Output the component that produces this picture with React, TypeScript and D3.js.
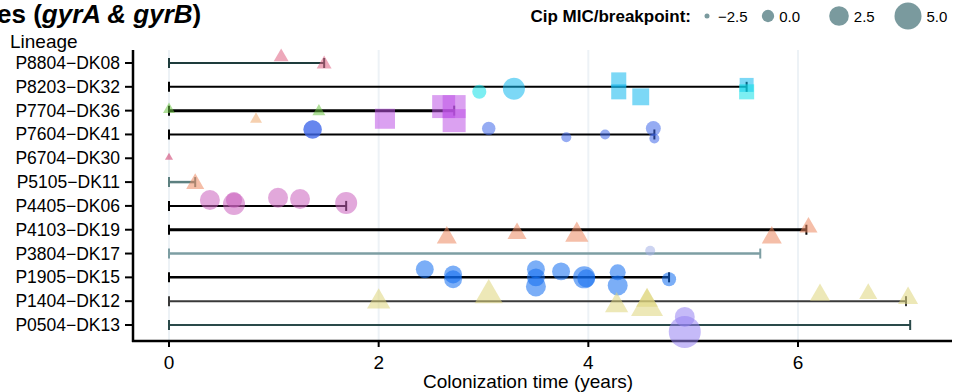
import React from "react";
import * as d3 from "d3";

// lineages, top to bottom
const lineages = [
  "P8804−DK08", "P8203−DK32", "P7704−DK36", "P7604−DK41", "P6704−DK30", "P5105−DK11",
  "P4405−DK06", "P4103−DK19", "P3804−DK17", "P1905−DK15", "P1404−DK12", "P0504−DK13",
];
// colonization span (years) per lineage
const endTimes = [1.48, 5.51, 2.72, 4.63, 0, 0.25, 1.69, 6.08, 5.64, 4.77, 7.03, 7.07];
const xTicks = [0, 2, 4, 6];
const legendMic = [-2.5, 0, 2.5, 5];

type Pt = { lin: number; t: number; jit: number; mic: number; shape: "tri" | "sq" | "ci"; grp: string };

// isolates: lineage index, time, vertical jitter (rows), MIC/breakpoint, shape, mutation group
const isolates: Pt[] = [
  { lin: 0, t: 1.07, jit: -0.34, mic: 0.4, shape: "tri", grp: "a" },
  { lin: 0, t: 1.48, jit: -0.04, mic: 0.4, shape: "tri", grp: "a" },
  { lin: 1, t: 2.96, jit: 0.21, mic: 0.6, shape: "ci", grp: "b2" },
  { lin: 1, t: 3.29, jit: 0.08, mic: 3.3, shape: "ci", grp: "b" },
  { lin: 1, t: 4.29, jit: -0.29, mic: 1.5, shape: "sq", grp: "b" },
  { lin: 1, t: 4.29, jit: 0.21, mic: 1.5, shape: "sq", grp: "b" },
  { lin: 1, t: 4.5, jit: 0.42, mic: 2.2, shape: "sq", grp: "b" },
  { lin: 1, t: 5.51, jit: -0.08, mic: 1.1, shape: "sq", grp: "b" },
  { lin: 1, t: 5.51, jit: 0.21, mic: 1.5, shape: "sq", grp: "b2" },
  { lin: 2, t: 0, jit: -0.12, mic: -0.5, shape: "tri", grp: "c" },
  { lin: 2, t: 0.83, jit: 0.29, mic: -0.5, shape: "tri", grp: "d" },
  { lin: 2, t: 1.43, jit: -0.04, mic: -0.2, shape: "tri", grp: "c" },
  { lin: 2, t: 2.06, jit: 0.34, mic: 3.4, shape: "sq", grp: "e" },
  { lin: 2, t: 2.62, jit: -0.17, mic: 4.5, shape: "sq", grp: "e" },
  { lin: 2, t: 2.72, jit: -0.17, mic: 4.5, shape: "sq", grp: "e" },
  { lin: 2, t: 2.72, jit: 0.42, mic: 4.5, shape: "sq", grp: "e" },
  { lin: 3, t: 1.37, jit: -0.21, mic: 2.1, shape: "ci", grp: "f" },
  { lin: 3, t: 1.37, jit: -0.21, mic: 2.0, shape: "ci", grp: "f" },
  { lin: 3, t: 3.05, jit: -0.25, mic: 0.4, shape: "ci", grp: "f" },
  { lin: 3, t: 3.79, jit: 0.12, mic: -0.8, shape: "ci", grp: "f" },
  { lin: 3, t: 4.16, jit: 0.0, mic: -0.8, shape: "ci", grp: "f" },
  { lin: 3, t: 4.62, jit: -0.25, mic: 0.9, shape: "ci", grp: "f" },
  { lin: 3, t: 4.63, jit: 0.17, mic: -0.8, shape: "ci", grp: "f" },
  { lin: 4, t: 0, jit: -0.08, mic: -1.7, shape: "tri", grp: "a2" },
  { lin: 5, t: 0.25, jit: -0.04, mic: 1.4, shape: "tri", grp: "d2" },
  { lin: 6, t: 0.39, jit: -0.25, mic: 2.6, shape: "ci", grp: "g" },
  { lin: 6, t: 0.62, jit: -0.25, mic: 1.3, shape: "ci", grp: "g" },
  { lin: 6, t: 0.62, jit: -0.08, mic: 3.3, shape: "ci", grp: "g" },
  { lin: 6, t: 1.04, jit: -0.34, mic: 2.6, shape: "ci", grp: "g" },
  { lin: 6, t: 1.25, jit: -0.29, mic: 2.6, shape: "ci", grp: "g" },
  { lin: 6, t: 1.69, jit: -0.12, mic: 3.3, shape: "ci", grp: "g" },
  { lin: 7, t: 2.65, jit: 0.21, mic: 2.0, shape: "tri", grp: "d2" },
  { lin: 7, t: 3.32, jit: 0.04, mic: 1.7, shape: "tri", grp: "d2" },
  { lin: 7, t: 3.89, jit: 0.08, mic: 3.0, shape: "tri", grp: "d2" },
  { lin: 7, t: 5.75, jit: 0.21, mic: 2.0, shape: "tri", grp: "d2" },
  { lin: 7, t: 6.1, jit: -0.21, mic: 1.4, shape: "tri", grp: "d2" },
  { lin: 8, t: 4.59, jit: -0.12, mic: -0.8, shape: "ci", grp: "h" },
  { lin: 9, t: 2.44, jit: -0.34, mic: 1.9, shape: "ci", grp: "i" },
  { lin: 9, t: 2.71, jit: -0.12, mic: 1.9, shape: "ci", grp: "i" },
  { lin: 9, t: 2.71, jit: 0.08, mic: 1.9, shape: "ci", grp: "i" },
  { lin: 9, t: 3.5, jit: -0.34, mic: 1.9, shape: "ci", grp: "i" },
  { lin: 9, t: 3.5, jit: 0.0, mic: 1.9, shape: "ci", grp: "i" },
  { lin: 9, t: 3.5, jit: 0.38, mic: 2.6, shape: "ci", grp: "i" },
  { lin: 9, t: 3.74, jit: -0.25, mic: 1.9, shape: "ci", grp: "i" },
  { lin: 9, t: 3.96, jit: 0.0, mic: 3.3, shape: "ci", grp: "i" },
  { lin: 9, t: 3.98, jit: 0.04, mic: 1.9, shape: "ci", grp: "i" },
  { lin: 9, t: 4.28, jit: -0.21, mic: 1.25, shape: "ci", grp: "i" },
  { lin: 9, t: 4.28, jit: 0.34, mic: 2.6, shape: "ci", grp: "i" },
  { lin: 9, t: 4.77, jit: 0.08, mic: 0.6, shape: "ci", grp: "i" },
  { lin: 10, t: 2.0, jit: -0.12, mic: 3.0, shape: "tri", grp: "j" },
  { lin: 10, t: 3.05, jit: -0.42, mic: 4.5, shape: "tri", grp: "j" },
  { lin: 10, t: 4.27, jit: 0.04, mic: 3.0, shape: "tri", grp: "j" },
  { lin: 10, t: 4.56, jit: 0.04, mic: 5.7, shape: "tri", grp: "j" },
  { lin: 10, t: 4.56, jit: -0.17, mic: 2.6, shape: "tri", grp: "j" },
  { lin: 10, t: 6.21, jit: -0.38, mic: 2.0, shape: "tri", grp: "j" },
  { lin: 10, t: 6.67, jit: -0.42, mic: 1.4, shape: "tri", grp: "j" },
  { lin: 10, t: 7.05, jit: -0.25, mic: 2.0, shape: "tri", grp: "j" },
  { lin: 11, t: 4.92, jit: -0.34, mic: 2.6, shape: "ci", grp: "k" },
  { lin: 11, t: 4.92, jit: 0.29, mic: 6.7, shape: "ci", grp: "k" },
];

const groupColor: Record<string, string> = {
  a: "#de6182", a2: "#cc3366", b: "#10b8ee", b2: "#10e0e8", c: "#6ec546", d: "#eeaa6e",
  d2: "#ed8961", e: "#be53e6", f: "#3f67e9", g: "#cb61be", h: "#a4b1e6", i: "#0f6cf0",
  j: "#dfd57b", k: "#9682f3",
};
const lineStyle = [
  ["#1e3c3c", 2], ["#000", 2], ["#000", 3], ["#000", 2], ["#000", 2], ["#5c8080", 2.5],
  ["#000", 2], ["#000", 3], ["#7d9ea3", 2.5], ["#000", 2.5], ["#3a3a3a", 2], ["#2a4a4a", 2],
] as [string, number][];

const W = 955, H = 392;
const FONT = "'Liberation Sans', Arial, sans-serif";

export default function App() {
  const x = d3.scaleLinear().domain([0, 6]).range([169, 798]);
  const y = d3.scalePoint<string>().domain(lineages).range([63, 325]);
  const step = y.step();
  const r = d3.scaleLinear().domain([-2.5, 5]).range([2.5, 13.5]);

  const shapePath = (s: string, rad: number) => {
    if (s === "tri") {
      const a = rad * 2.2, h = a * 0.866;
      return `M0,${-h / 2}L${a / 2},${h / 2}L${-a / 2},${h / 2}Z`;
    }
    if (s === "sq") {
      const a = rad * 1.8;
      return `M${-a / 2},${-a / 2}h${a}v${a}h${-a}Z`;
    }
    return d3.arc()({ innerRadius: 0, outerRadius: rad, startAngle: 0, endAngle: 2 * Math.PI } as any) as string;
  };

  return (
    <svg width={W} height={H} style={{ position: "absolute", left: 0, top: 0, fontFamily: FONT }}>
      <rect width={W} height={H} fill="#fff" />
      {/* title, cut off at the left like the source */}
      <text x={-3} y={23} fontSize={26} fontWeight="bold" fill="#000">
        es (<tspan fontStyle="italic">gyrA &amp; gyrB</tspan>)
      </text>

      {/* legend */}
      <text x={691} y={22} fontSize={17} fontWeight="bold" textAnchor="end">Cip MIC/breakpoint:</text>
      {legendMic.map((m, i) => {
        const cx = [707, 768, 839, 908][i];
        return (
          <g key={m}>
            <circle cx={cx} cy={16} r={r(m)} fill="#6b8f93" fillOpacity={0.9} />
            <text x={cx + 11 + (i === 0 ? 0 : r(m) - 6)} y={22} fontSize={15}>
              {d3.format(".1f")(m).replace("-", "−")}
            </text>
          </g>
        );
      })}

      {/* grid */}
      {xTicks.map((t) => (
        <line key={t} x1={x(t)} x2={x(t)} y1={50} y2={340} stroke="#edf2f6" strokeWidth={2} />
      ))}

      {/* axes */}
      <line x1={133} x2={133} y1={50} y2={342} stroke="#000" strokeWidth={2.5} />
      <line x1={132} x2={952} y1={341} y2={341} stroke="#000" strokeWidth={2.5} />
      <text x={10} y={48} fontSize={19}>Lineage</text>
      {lineages.map((l) => (
        <g key={l}>
          <line x1={125} x2={132} y1={y(l)} y2={y(l)} stroke="#000" strokeWidth={2} />
          <text x={120} y={y(l)! + 6} fontSize={17.5} textAnchor="end">{l}</text>
        </g>
      ))}
      {xTicks.map((t) => (
        <g key={t}>
          <line x1={x(t)} x2={x(t)} y1={341} y2={347} stroke="#000" strokeWidth={2} />
          <text x={x(t)} y={369} fontSize={19} textAnchor="middle">{t}</text>
        </g>
      ))}
      <text x={528} y={388} fontSize={19} textAnchor="middle">Colonization time (years)</text>

      {/* colonization spans */}
      {lineages.map((l, i) => {
        const [c, w] = lineStyle[i];
        const yy = y(l)!;
        if (endTimes[i] <= 0) return null;
        return (
          <g key={l}>
            <line x1={x(0)} x2={x(endTimes[i])} y1={yy} y2={yy} stroke={c} strokeWidth={w} />
            <line x1={x(0)} x2={x(0)} y1={yy - 5} y2={yy + 5} stroke={c} strokeWidth={2} />
            <line x1={x(endTimes[i])} x2={x(endTimes[i])} y1={yy - 5} y2={yy + 5} stroke={c} strokeWidth={2} />
          </g>
        );
      })}

      {/* isolates */}
      {isolates.map((p, i) => (
        <path
          key={i}
          transform={`translate(${x(p.t)},${y(lineages[p.lin])! + p.jit * step})`}
          d={shapePath(p.shape, r(p.mic))}
          fill={groupColor[p.grp]}
          fillOpacity={0.55}
        />
      ))}
    </svg>
  );
}
